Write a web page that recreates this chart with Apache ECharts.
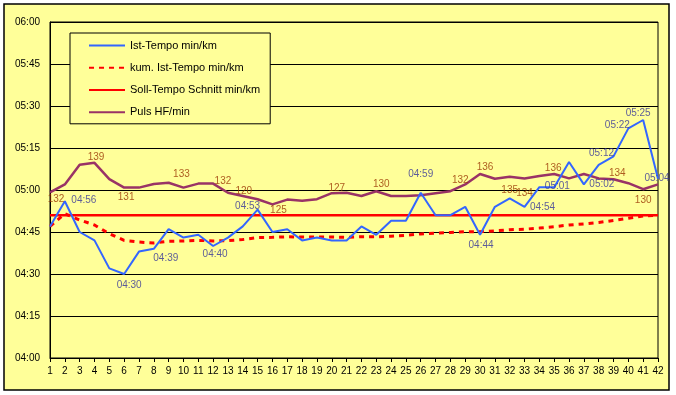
<!DOCTYPE html>
<html><head><meta charset="utf-8">
<script src="https://cdn.jsdelivr.net/npm/echarts@6/dist/echarts.min.js"></script>
<style>html,body{margin:0;padding:0;background:#fff}#c{width:676px;height:395px}</style>
</head><body><div id="c"></div>
<script>
// ---- data (pace in seconds per km, pulse in beats/min) ----
const km = ['1','2','3','4','5','6','7','8','9','10','11','12','13','14','15','16','17','18','19','20','21','22','23','24','25','26','27','28','29','30','31','32','33','34','35','36','37','38','39','40','41','42'];
const istTempo = [287,296,285,282,272,270,278,279,286,283,284,280,283,287,293,285,286,282,283,282,282,287,284,289,289,299,291,291,294,284,294,297,294,301,301,310,302,309,312,322,325,304];
const kumTempo = [287,291.5,289.3,287.5,284.4,282,281.4,281.1,281.7,281.8,282,281.8,281.9,282.3,283,283.1,283.3,283.2,283.2,283.2,283.1,283.3,283.3,283.5,283.8,284.3,284.6,284.8,285.1,285.1,285.4,285.8,286,286.4,286.9,287.5,287.9,288.4,289.1,289.9,290.7,291];
const sollTempo = [291,291,291,291,291,291,291,291,291,291,291,291,291,291,291,291,291,291,291,291,291,291,291,291,291,291,291,291,291,291,291,291,291,291,291,291,291,291,291,291,291,291];
const puls = [131.4,133.4,138.3,138.8,134.7,132.6,132.6,133.5,133.8,132.6,133.6,133.6,131.3,130.5,129.7,128.4,129.6,129.3,129.7,131.2,131.3,130.5,131.7,130.5,130.5,130.7,131.2,131.7,133.4,136,134.8,135.3,134.9,135.5,136,134.9,136,134.9,134.7,133.7,132.2,133.4];
const tempoLabelKm = [2,6,8,12,15,26,30,33,34,37,39,40,41,42];
const pulsLabelKm = [1,4,6,10,13,14,16,20,23,29,30,32,33,35,40,41];
const pulsLabelText = ['132','139','131','133','132','120','125','127','130','132','136','135','134','136','134','130'];
const seriesNames = ['Ist-Tempo min/km','kum. Ist-Tempo min/km','Soll-Tempo Schnitt min/km','Puls HF/min'];

// ---- label placement (style, not data) ----
const tempoLabelOffset = {2:[19,-1],6:[5,11],8:[12,9],12:[2,8],15:[-10,-3],26:[0,-19],30:[1,10],33:[18,0],34:[18,-1],37:[18,0],39:[-12,-3],40:[-11,-3],41:[-5,-7],42:[-1,-1]};
const pulsLabelOffset = {1:[6,7],4:[1.5,-6],6:[2,10],10:[-2,-13],13:[-5,-12],14:[1,-5],16:[6,6],20:[5,-5],23:[5,-7],29:[-5,-4],30:[5,-7],32:[0,13],33:[0,15],35:[-1,-6],40:[-11,-10],41:[0,11]};

const FONT = 'Liberation Sans, Arial, sans-serif';
function mmss(v){const m=Math.floor(v/60), s=Math.round(v-m*60);return String(m).padStart(2,'0')+':'+String(s).padStart(2,'0');}

const tempoLabelData = tempoLabelKm.map(k => ({
  value: [k-1, istTempo[k-1]],
  label: {offset: tempoLabelOffset[k], formatter: mmss(istTempo[k-1])}
}));
const pulsLabelData = pulsLabelKm.map((k,i) => ({
  value: [k-1, puls[k-1]],
  label: {offset: pulsLabelOffset[k], formatter: pulsLabelText[i]}
}));

const chart = echarts.init(document.getElementById('c'), null, {renderer:'canvas'});
chart.setOption({
  animation: false,
  backgroundColor: '#ffffff',
  graphic: [{type:'rect', z:-10, shape:{x:4,y:4,width:665,height:386}, style:{fill:'#FFFF99', stroke:'#000', lineWidth:1.5}}],
  grid: {left:50, right:18, top:22, bottom:37, show:true, borderColor:'#000', borderWidth:1, backgroundColor:'transparent'},
  legend: {
    data: seriesNames, orient:'vertical', left:70, top:33,
    itemWidth:36, itemHeight:14, itemGap:11,
    padding:[7,10,6,18],
    backgroundColor:'#FFFF99', borderColor:'#000', borderWidth:1,
    itemStyle:{opacity:0},
    textStyle:{fontFamily:FONT, fontSize:11, color:'#000'},
    selectedMode:false
  },
  xAxis: {
    type:'category', data: km, boundaryGap:false,
    axisLine:{show:true, lineStyle:{color:'#000', width:1}},
    axisTick:{show:true, interval:0, length:4, lineStyle:{color:'#000'}},
    axisLabel:{interval:0, fontFamily:FONT, fontSize:10, color:'#000', margin:8},
    splitLine:{show:false}
  },
  yAxis: [{
    type:'value', min:240, max:360, interval:15,
    axisLine:{show:true, lineStyle:{color:'#000'}},
    axisTick:{show:false},
    axisLabel:{formatter: mmss, fontFamily:FONT, fontSize:10, color:'#000', margin:10},
    splitLine:{show:true, lineStyle:{color:'#000', width:1}}
  },{
    type:'value', min:90, max:174, show:false, splitLine:{show:false}
  }],
  series: [
    {name: seriesNames[3], type:'line', yAxisIndex:1, data: puls, symbol:'none', lineStyle:{color:'#993366', width:2.5}, itemStyle:{color:'#993366'}, z:2},
    {name: seriesNames[2], type:'line', data: sollTempo, symbol:'none', lineStyle:{color:'#FF0000', width:2.5}, itemStyle:{color:'#FF0000'}, z:3},
    {name: seriesNames[1], type:'line', data: kumTempo, symbol:'none', lineStyle:{color:'#FF0000', width:3, type:[5,5]}, itemStyle:{color:'#FF0000'}, z:4},
    {name: seriesNames[0], type:'line', data: istTempo, symbol:'none', lineStyle:{color:'#3366FF', width:2}, itemStyle:{color:'#3366FF'}, z:5},
    {type:'scatter', data: tempoLabelData, symbolSize:0, silent:true, z:6,
      label:{show:true, position:'inside', fontFamily:FONT, fontSize:10, color:'#333399'}},
    {type:'scatter', yAxisIndex:1, data: pulsLabelData, symbolSize:0, silent:true, z:6,
      label:{show:true, position:'inside', fontFamily:FONT, fontSize:10, color:'#993300'}}
  ]
});
</script></body></html>
